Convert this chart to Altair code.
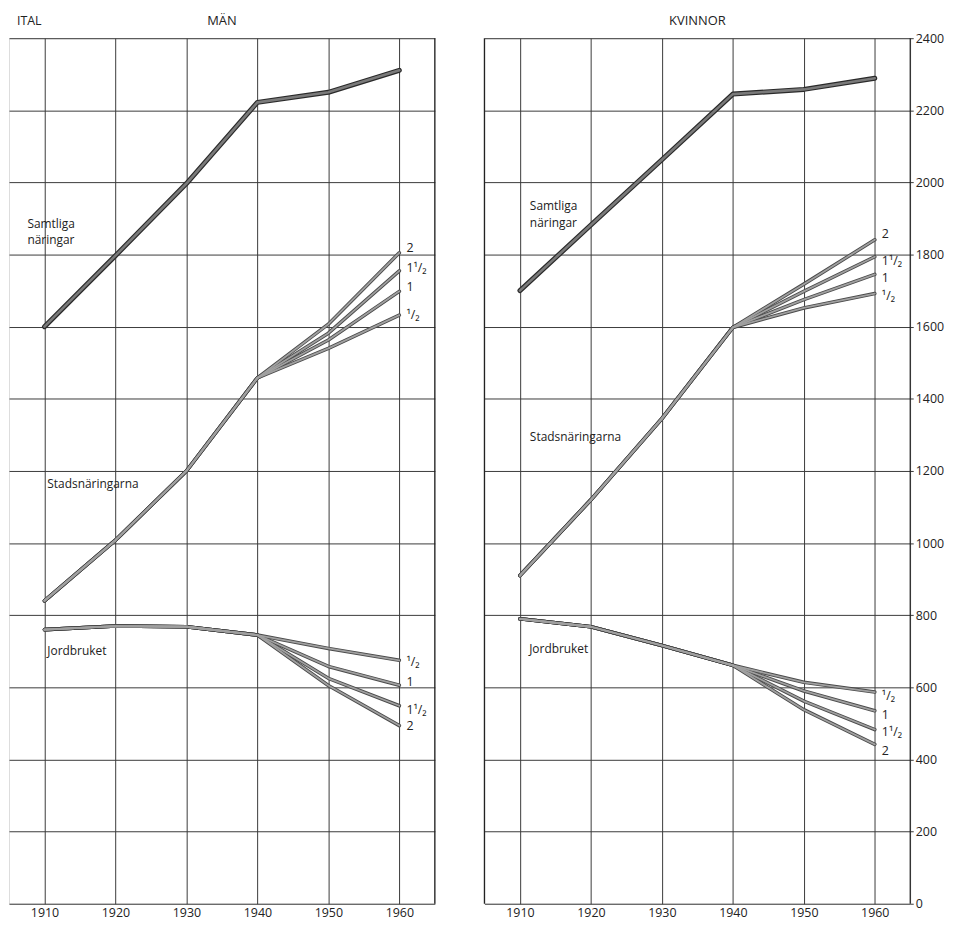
import altair as alt
import pandas as pd

# ---------------- data ----------------
VARIANTS = ["¹/₂", "1", "1¹/₂", "2"]

TOTAL_YEARS = [1910, 1920, 1930, 1940, 1950, 1960]
STEM_YEARS = [1910, 1920, 1930, 1940]
FAN_YEARS = [1950, 1960]

MEN_TOTAL = [1600, 1797, 1997, 2222, 2250, 2311]
MEN_URBAN = [840, 1008, 1200, 1458]
MEN_URBAN_1950 = [1540, 1563, 1582, 1607]
MEN_URBAN_1960 = [1632, 1698, 1755, 1805]
MEN_AGRI = [760, 770, 768, 745]
MEN_AGRI_1950 = [708, 658, 625, 605]
MEN_AGRI_1960 = [675, 606, 549, 494]

WOMEN_TOTAL = [1700, 1882, 2063, 2245, 2258, 2289]
WOMEN_URBAN = [910, 1120, 1345, 1598]
WOMEN_URBAN_1950 = [1652, 1675, 1698, 1718]
WOMEN_URBAN_1960 = [1692, 1745, 1794, 1841]
WOMEN_AGRI = [790, 768, 716, 661]
WOMEN_AGRI_1950 = [614, 590, 562, 538]
WOMEN_AGRI_1960 = [587, 535, 483, 442]

LABEL_TEXT = ["Samtliga", "näringar", "Stadsnäringarna", "Jordbruket",
              "2", "1¹/₂", "1", "¹/₂", "¹/₂", "1", "1¹/₂", "2"]
LABEL_KIND = ["name"] * 4 + ["fan"] * 8
MEN_LABEL_X = [1907.6, 1907.6, 1910.4, 1910.4] + [1961.0] * 8
MEN_LABEL_Y = [1884, 1840, 1163, 702, 1819, 1764, 1709, 1632, 669, 614, 538, 494]
WOMEN_LABEL_X = [1911.4, 1911.4, 1911.4, 1911.3] + [1961.0] * 8
WOMEN_LABEL_Y = [1934, 1888, 1295, 705, 1856, 1782, 1736, 1686, 575, 524, 476, 424]

Y_TICKS = list(range(0, 2401, 200))
X_TICKS = [1910, 1920, 1930, 1940, 1950, 1960]

FONT = "Open Sans"
W = 429
H = 872


def build_lines(total, urban, u50, u60, agri, a50, a60):
    total_rows = [{"id": "total", "year": y, "value": v} for y, v in zip(TOTAL_YEARS, total)]
    other = []
    for i, var in enumerate(VARIANTS):
        for name, stem, v50, v60 in (("urban", urban, u50, u60), ("agri", agri, a50, a60)):
            lid = f"{name}-{var}"
            for y, v in zip(STEM_YEARS, stem):
                other.append({"id": lid, "year": y, "value": v})
            other.append({"id": lid, "year": FAN_YEARS[0], "value": v50[i]})
            other.append({"id": lid, "year": FAN_YEARS[1], "value": v60[i]})
    return pd.DataFrame(total_rows), pd.DataFrame(other)


def panel(total_df, other_df, lab_x, lab_y, title, right_axis, left_border):
    xs = alt.Scale(domain=[1905, 1965], nice=False, zero=False)
    ys = alt.Scale(domain=[0, 2400], nice=False)
    x = alt.X("year:Q", scale=xs, axis=alt.Axis(
        values=X_TICKS, format="d", title=None, grid=True, gridColor="#3a3a3a",
        gridWidth=1, gridOpacity=1, ticks=False, domain=False,
        labelFont=FONT, labelFontSize=12.5, labelColor="#222", labelPadding=3))
    if right_axis:
        yax = alt.Axis(values=Y_TICKS, format="d", orient="right", title=None, grid=True,
                       gridColor="#3a3a3a", gridWidth=1, gridOpacity=1,
                       ticks=True, tickSize=3, tickColor="#3a3a3a", domain=False,
                       labelFont=FONT, labelFontSize=12.5, labelColor="#222",
                       labelPadding=2)
    else:
        yax = alt.Axis(values=Y_TICKS, orient="left", title=None, grid=True,
                       gridColor="#3a3a3a", gridWidth=1, gridOpacity=1,
                       ticks=False, labels=False, domain=False)
    y = alt.Y("value:Q", scale=ys, axis=yax)

    base_total = alt.Chart(total_df)
    base_other = alt.Chart(other_df)
    under_o = base_other.mark_line(color="#4a4a4a", strokeWidth=3.6, strokeCap="round",
                                   strokeJoin="round").encode(x=x, y=y, detail="id:N")
    over_o = base_other.mark_line(color="#a0a0a0", strokeWidth=1.8, strokeCap="round",
                                  strokeJoin="round").encode(x=x, y=y, detail="id:N")
    under_t = base_total.mark_line(color="#2a2a2a", strokeWidth=5, strokeCap="round",
                                   strokeJoin="round").encode(x=x, y=y)
    over_t = base_total.mark_line(color="#7a7a7a", strokeWidth=2.6, strokeCap="round",
                                  strokeJoin="round").encode(x=x, y=y)

    lab = pd.DataFrame({"text": LABEL_TEXT, "kind": LABEL_KIND, "year": lab_x, "value": lab_y})
    names = alt.Chart(lab).transform_filter(alt.datum.kind == "name").mark_text(
        align="left", baseline="middle", font=FONT, fontSize=12, color="#222"
    ).encode(x=alt.X("year:Q", scale=xs), y=alt.Y("value:Q", scale=ys), text="text:N")
    fans = alt.Chart(lab).transform_filter(alt.datum.kind == "fan").mark_text(
        align="left", baseline="middle", font=FONT, fontSize=12.5, color="#222"
    ).encode(x=alt.X("year:Q", scale=xs), y=alt.Y("value:Q", scale=ys), text="text:N")

    edges = [1965] + ([1905] if left_border else [])
    border = alt.Chart(pd.DataFrame({"year": edges})).mark_rule(
        color="#222", strokeWidth=1.3).encode(x=alt.X("year:Q", scale=xs))

    head = alt.Chart(pd.DataFrame({"t": [title]})).mark_text(
        align="center", baseline="middle", font=FONT, fontSize=13, color="#222"
    ).encode(x=alt.value(W / 2), y=alt.value(-17), text="t:N")

    layers = [border, under_o, over_o, under_t, over_t, names, fans, head]
    if not right_axis:
        ital = alt.Chart(pd.DataFrame({"t": ["ITAL"]})).mark_text(
            align="left", baseline="middle", font=FONT, fontSize=12.5, color="#222"
        ).encode(x=alt.value(8), y=alt.value(-17), text="t:N")
        layers.append(ital)

    return alt.layer(*layers).properties(width=W, height=H)


men_total_df, men_other_df = build_lines(MEN_TOTAL, MEN_URBAN, MEN_URBAN_1950, MEN_URBAN_1960,
                                         MEN_AGRI, MEN_AGRI_1950, MEN_AGRI_1960)
wom_total_df, wom_other_df = build_lines(WOMEN_TOTAL, WOMEN_URBAN, WOMEN_URBAN_1950,
                                         WOMEN_URBAN_1960, WOMEN_AGRI, WOMEN_AGRI_1950,
                                         WOMEN_AGRI_1960)

left = panel(men_total_df, men_other_df, MEN_LABEL_X, MEN_LABEL_Y, "MÄN", False, False)
right = panel(wom_total_df, wom_other_df, WOMEN_LABEL_X, WOMEN_LABEL_Y, "KVINNOR", True, True)

chart = alt.hconcat(left, right, spacing=46).properties(
    padding={"left": 0, "top": 3, "right": 0, "bottom": 0}
).configure_view(stroke=None).configure(background="white")

chart.save("out.html", embed_options={"renderer": "svg", "actions": False})
